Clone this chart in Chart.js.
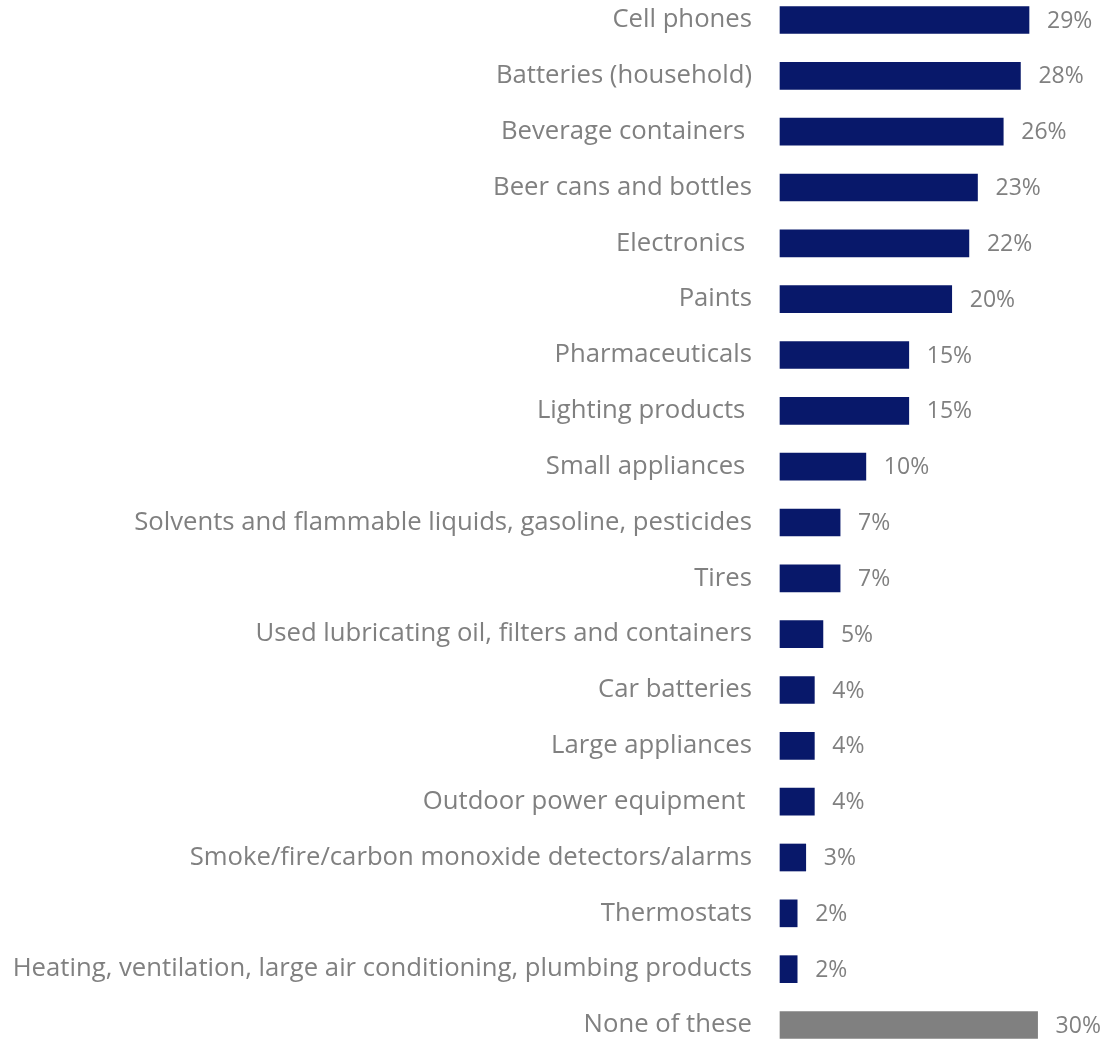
<!DOCTYPE html>
<html>
<head>
<meta charset="utf-8">
<script src="https://cdn.jsdelivr.net/npm/chart.js@4.4.1/dist/chart.umd.min.js"></script>
<style>
  html, body { margin: 0; padding: 0; background: #ffffff; }
  #wrap { width: 1105px; height: 1039px; position: relative; }
</style>
</head>
<body>
<div id="wrap"><canvas id="itemsChart"></canvas></div>
<script>
const categories = [
    'Cell phones',
    'Batteries (household)',
    'Beverage containers ',
    'Beer cans and bottles',
    'Electronics ',
    'Paints',
    'Pharmaceuticals',
    'Lighting products ',
    'Small appliances ',
    'Solvents and flammable liquids, gasoline, pesticides',
    'Tires',
    'Used lubricating oil, filters and containers',
    'Car batteries',
    'Large appliances',
    'Outdoor power equipment ',
    'Smoke/fire/carbon monoxide detectors/alarms',
    'Thermostats',
    'Heating, ventilation, large air conditioning, plumbing products',
    'None of these'
];
const shares = [29, 28, 26, 23, 22, 20, 15, 15, 10, 7, 7, 5, 4, 4, 4, 3, 2, 2, 30];
const barColors = shares.map((v, i) => i === shares.length - 1 ? '#808080' : '#08186a');

const labelFont = '"Open Sans", sans-serif';
const textGrey = '#808080';

// writes "NN%" just past the end of each bar
const valueLabels = {
    id: 'valueLabels',
    afterDatasetsDraw(chart) {
        const ctx = chart.ctx;
        ctx.save();
        ctx.font = '23px ' + labelFont;
        ctx.fillStyle = textGrey;
        ctx.textAlign = 'left';
        ctx.textBaseline = 'middle';
        chart.getDatasetMeta(0).data.forEach((bar, i) => {
            ctx.fillText(shares[i] + '%', bar.x + 18, bar.y + 1);
        });
        ctx.restore();
    }
};

const ctx = document.getElementById('itemsChart').getContext('2d');
const itemsChart = new Chart(ctx, {
    type: 'bar',
    data: {
        labels: categories,
        datasets: [{
            data: shares,
            backgroundColor: barColors,
            barThickness: 27,
            clip: false
        }]
    },
    options: {
        indexAxis: 'y',
        responsive: true,
        maintainAspectRatio: false,
        animation: false,
        layout: { padding: { top: 20, bottom: 14, left: 0, right: 0 } },
        plugins: {
            legend: { display: false },
            tooltip: { enabled: false }
        },
        scales: {
            x: {
                display: false,
                min: 0,
                max: 37.85
            },
            y: {
                offset: false,
                border: { display: false },
                grid: { display: false, drawTicks: false },
                ticks: {
                    padding: 28,
                    color: textGrey,
                    font: { family: labelFont, size: 25.7 }
                },
                afterFit(scale) {
                    scale.width = 780;
                    scale.paddingTop = 0;
                    scale.paddingBottom = 0;
                }
            }
        }
    },
    plugins: [valueLabels]
});
</script>
</body>
</html>
